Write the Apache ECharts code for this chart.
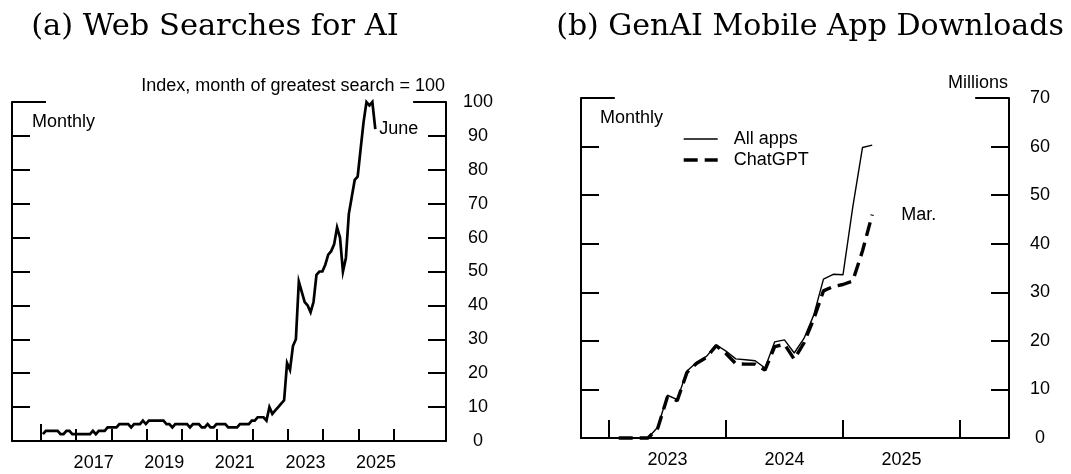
<!DOCTYPE html>
<html>
<head>
<meta charset="utf-8">
<script src="https://cdn.jsdelivr.net/npm/echarts@6/dist/echarts.min.js"></script>
<style>
html,body{margin:0;padding:0;background:#fff;}
#chart{width:1071px;height:474px;}
</style>
</head>
<body>
<div id="chart"></div>
<script>
// ---------------- data ----------------
// (a) Web searches for AI, monthly index, Jan 2016 .. Jun 2025
const searchStartYear = 2016;
const searchIndex = [
  2,3,3,3,3,3,2,2,3,3,2,2,          // 2016
  2,2,2,2,2,3,2,3,3,3,4,4,          // 2017
  4,4,5,5,5,5,4,5,5,5,6,5,          // 2018
  6,6,6,6,6,6,5,5,4,5,5,5,          // 2019
  5,5,4,5,5,5,4,4,5,4,4,5,          // 2020
  5,5,5,4,4,4,4,5,5,5,5,6,          // 2021
  6,7,7,7,6,10,8,9,10,11,12,23,     // 2022
  21,28,30,47,44,41,40,38,41,49,50,50, // 2023
  52,55,56,58,63,60,50,54,67,72,77,78, // 2024
  86,94,100,99,100,92               // 2025 (Jan-Jun)
];
// (b) GenAI mobile app downloads, millions, Jan 2023 .. Mar 2025
const appStartYear = 2023;
const allApps = [0,0,0,0,2.2,8.8,7.9,13.8,15.6,16.8,19.2,17.9,16.3,16.1,15.9,14.4,19.8,20.2,17.5,20.5,25.3,32.7,33.7,33.6,47.5,59.8,60.3];
const chatGPT = [0,0,0,0,2.0,8.5,7.7,13.5,15.4,16.6,19.0,17.4,15.3,15.2,15.2,14.0,18.8,19.3,16.2,19.6,24.5,30.3,31.2,31.6,32.3,38.5,46.0];

const leftTickYears = [2016,2017,2018,2019,2020,2021,2022,2023,2024,2025,2026];
const leftLabelYears = [2017,2019,2021,2023,2025];
const rightTickYears = [2023,2024,2025,2026];
const rightLabelYears = [2023,2024,2025];
const leftYTicks = [10,20,30,40,50,60,70,80,90];
const rightYTicks = [10,20,30,40,50,60];

const seriesNames = ['All apps','ChatGPT'];
const endLabels = {search:'June', apps:'Mar.'};

// ---------------- build ----------------
const searchData = searchIndex.map((v,i)=>[searchStartYear + (i+0.75)/12, v]);
const allData = allApps.map((v,i)=>[appStartYear + (i+1)/12, v]);
const gptData = chatGPT.map((v,i)=>[appStartYear + (i+1)/12, v]);

const SANS = 'Liberation Sans, Arial, Helvetica, sans-serif';
const SERIF = 'DejaVu Serif, serif';
const BLACK = '#000';
const FS = 18;
const allStyle = {color:BLACK, width:1.4};
const gptStyle = {color:BLACK, width:3.4, type:[14,7], cap:'butt'};

const L = {min: 2015.187, max: 2027.482};
const R = {min: 2022.761, max: 2026.419};

function xAxisMain(grid, range, ticks, labels, tickLen){
  return {
    type:'value', gridIndex:grid, min:range.min, max:range.max, position:'bottom',
    axisLine:{show:true, onZero:false, lineStyle:{color:BLACK, width:2}},
    axisTick:{show:true, inside:true, length:tickLen, customValues:ticks, lineStyle:{color:BLACK, width:2}},
    axisLabel:{show:true, customValues:labels.map(y=>y+0.5), margin:13,
      formatter:(v)=>String(Math.floor(v)), color:BLACK, fontSize:FS, fontFamily:SANS},
    splitLine:{show:false}
  };
}
function yAxisPair(grid, max, ticks, labelMargin){
  return [
    {type:'value', gridIndex:grid, min:0, max:max, interval:10, position:'left',
     axisLine:{show:true, lineStyle:{color:BLACK, width:2}},
     axisTick:{show:true, inside:true, length:18, customValues:ticks, lineStyle:{color:BLACK, width:2}},
     axisLabel:{show:false}, splitLine:{show:false}},
    {type:'value', gridIndex:grid, min:0, max:max, interval:10, position:'right',
     axisLine:{show:true, lineStyle:{color:BLACK, width:2}},
     axisTick:{show:true, inside:true, length:18, customValues:ticks, lineStyle:{color:BLACK, width:2}},
     axisLabel:{show:true, align:'center', margin:labelMargin, color:BLACK, fontSize:FS, fontFamily:SANS},
     splitLine:{show:false}}
  ];
}
const frameLine = {symbol:['none','none'], silent:true, label:{show:false},
  lineStyle:{color:BLACK, width:2, type:'solid'}, emphasis:{disabled:true}, animation:false};

const leftY = yAxisPair(0, 100, leftYTicks, 32);
const rightY = yAxisPair(1, 70, rightYTicks, 31);

const option = {
  animation:false,
  backgroundColor:'#fff',
  textStyle:{fontFamily:SANS, color:BLACK},
  grid:[
    {left:12, top:102, width:434, height:339, outerBoundsMode:'none', containLabel:false},
    {left:581, top:98, width:428, height:340, outerBoundsMode:'none', containLabel:false}
  ],
  xAxis:[
    xAxisMain(0, L, leftTickYears, leftLabelYears, 12),
    {type:'value', gridIndex:0, min:L.min, max:L.max, position:'bottom',
     axisLine:{show:false}, axisLabel:{show:false}, splitLine:{show:false},
     axisTick:{show:true, inside:true, length:17, customValues:[leftTickYears[0]], lineStyle:{color:BLACK, width:2}}},
    xAxisMain(1, R, rightTickYears, rightLabelYears, 18)
  ],
  yAxis:[leftY[0], leftY[1], rightY[0], rightY[1]],
  legend:{
    show:true, orient:'vertical', left:677, top:125, itemWidth:34, itemHeight:14, itemGap:3,
    data:[
      {name:seriesNames[0], lineStyle:{width:allStyle.width, color:BLACK, opacity:1}},
      {name:seriesNames[1], lineStyle:{width:gptStyle.width, color:BLACK, type:gptStyle.type, cap:'butt', opacity:1}}
    ],
    selectedMode:false,
    itemStyle:{opacity:0},
    textStyle:{color:BLACK, fontSize:FS, fontFamily:SANS, padding:[0,0,0,11]}
  },
  series:[
    {name:'Web searches', type:'line', xAxisIndex:0, yAxisIndex:1, data:searchData,
     symbol:'none', clip:false, silent:true,
     itemStyle:{color:BLACK},
     lineStyle:{color:BLACK, width:2.7, join:'miter'},
     endLabel:{show:true, formatter:endLabels.search, distance:4, color:BLACK, fontSize:FS, fontFamily:SANS},
     markLine:Object.assign({}, frameLine, {data:[
       [{coord:[L.min,100]},{coord:[2016.15,100]}],
       [{coord:[2026.55,100]},{coord:[L.max,100]}]
     ]})
    },
    {name:seriesNames[0], type:'line', xAxisIndex:2, yAxisIndex:3, data:allData,
     symbol:'none', clip:false, silent:true,
     itemStyle:{color:BLACK},
     lineStyle:allStyle,
     markLine:Object.assign({}, frameLine, {data:[
       [{coord:[R.min,70]},{coord:[2023.05,70]}],
       [{coord:[2026.13,70]},{coord:[R.max,70]}]
     ]})
    },
    {name:seriesNames[1], type:'line', xAxisIndex:2, yAxisIndex:3, data:gptData,
     symbol:'none', clip:false, silent:true,
     itemStyle:{color:BLACK},
     lineStyle:gptStyle,
     endLabel:{show:true, formatter:endLabels.apps, distance:29, color:BLACK, fontSize:FS, fontFamily:SANS}
    }
  ],
  graphic:[
    {type:'text', x:215, y:27, style:{text:'(a) Web Searches for AI', font:'30.5px '+SERIF, fill:BLACK, textAlign:'center', textVerticalAlign:'middle'}},
    {type:'text', x:810, y:27, style:{text:'(b) GenAI Mobile App Downloads', font:'30px '+SERIF, fill:BLACK, textAlign:'center', textVerticalAlign:'middle'}},
    {type:'text', x:445, y:86, style:{text:'Index, month of greatest search = 100', font:FS+'px '+SANS, fill:BLACK, textAlign:'right', textVerticalAlign:'middle'}},
    {type:'text', x:32, y:122, style:{text:'Monthly', font:FS+'px '+SANS, fill:BLACK, textAlign:'left', textVerticalAlign:'middle'}},
    {type:'text', x:1008, y:83, style:{text:'Millions', font:FS+'px '+SANS, fill:BLACK, textAlign:'right', textVerticalAlign:'middle'}},
    {type:'text', x:600, y:118, style:{text:'Monthly', font:FS+'px '+SANS, fill:BLACK, textAlign:'left', textVerticalAlign:'middle'}}
  ]
};
const chart = echarts.init(document.getElementById('chart'), null, {renderer:'canvas'});
chart.setOption(option);
</script>
</body>
</html>
